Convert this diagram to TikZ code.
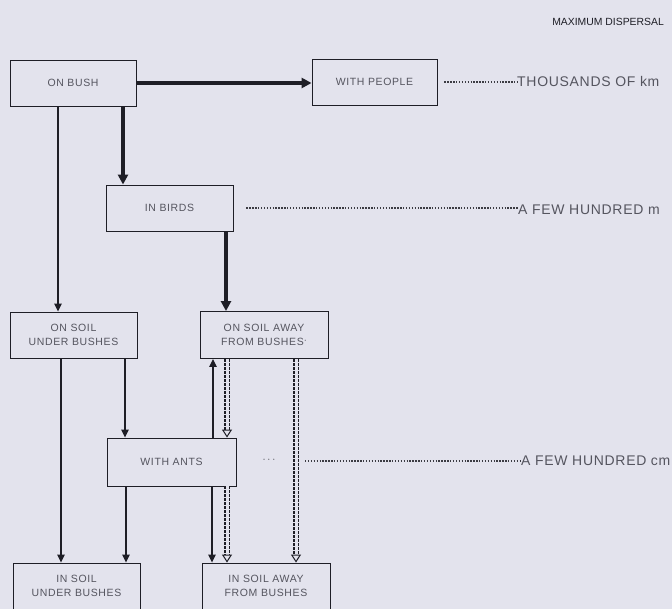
\documentclass[tikz,border=0pt]{standalone}
\usepackage{fontspec}
\setmainfont{Liberation Sans}
\newfontfamily\boxfont[LetterSpace=6]{Liberation Sans}
\newfontfamily\labelfont[LetterSpace=5]{Liberation Sans}
\usepackage{xcolor}
\usepackage{tikz}
\usetikzlibrary{arrows.meta, positioning, calc}
\definecolor{bgc}{RGB}{227,227,237}
\definecolor{linec}{RGB}{30,30,38}
\definecolor{textc}{RGB}{85,85,95}
\tikzset{
  box/.style={rectangle, draw=linec, line width=0.9pt, minimum width=127pt, minimum height=46pt, align=center, text=textc, font=\boxfont\fontsize{10.5}{14}\selectfont, inner sep=0pt},
  farlabel/.style={anchor=west, text=textc, font=\labelfont\fontsize{14}{16}\selectfont, inner sep=0pt},
  arrow/.style={-{Triangle[length=8pt, width=7.5pt]}, draw=linec, line width=1.1pt},
  tarrow/.style={-{Triangle[length=10pt, width=10pt]}, draw=linec, line width=3.6pt},
  uparrow/.style={-{Triangle[length=8pt, width=7.5pt]}, draw=linec, line width=1.1pt},
  ddarrow/.style={-{Triangle[open, length=8pt, width=10pt, line width=1pt]}, draw=linec, double=bgc, double distance=3pt, line width=1.1pt, dash pattern=on 2.8pt off 1.2pt},
  leader/.style={draw=textc!70!black, line width=1.5pt, dash pattern=on 1.4pt off 1.5pt},
}

\begin{document}
\begin{tikzpicture}[x=1pt, y=-1pt]
  % Background
  \fill[bgc] (0,0) rectangle (672,609);
  \useasboundingbox (0,0) rectangle (672,609);

  % Boxes
  \node[box, minimum width=126pt] (bush) at (73, 83) {ON BUSH};
  \node[box, minimum width=125pt] (people) at (374.5, 82) {WITH PEOPLE};
  \node[box] (birds) at (169.5, 208) {IN BIRDS};
  \node[box] (soilunder) at (73.5, 335) {ON SOIL\\UNDER BUSHES};
  \node[box, minimum width=128pt, minimum height=47pt] (soilaway) at (264, 335) {ON SOIL AWAY\\FROM BUSHES\raisebox{0.3ex}{$\cdot$}};
  \node[box, minimum width=129pt, minimum height=48pt] (ants) at (171.5, 462) {WITH ANTS};
  \node[box] (insoilunder) at (76.5, 586) {IN SOIL\\UNDER BUSHES};
  \node[box, minimum width=128pt] (insoilaway) at (266, 586) {IN SOIL AWAY\\FROM BUSHES};

  % Distances
  \node[anchor=east, text=linec, font=\fontsize{10.4}{12}\selectfont, inner sep=0pt] (title) at (664, 22) {MAXIMUM DISPERSAL};
  \node[farlabel] (km) at (517, 82) {THOUSANDS OF km};
  \node[farlabel] (hm) at (518, 210) {A FEW HUNDRED m};
  \node[farlabel] (hcm) at (521, 461) {A FEW HUNDRED cm};
  \node[text=textc!80!black, font=\fontsize{11}{12}\selectfont, inner sep=0pt] (dots) at (269, 460) {$\cdots$};
  \coordinate (leadstart) at (305, 461);

  \draw[leader] ([xshift=7pt]people.east) -- (km.west);
  \draw[leader] ([xshift=13pt]birds.east) -- (birds.east -| hm.west);
  \draw[leader] (leadstart) -- (leadstart -| hcm.west);

  % Heavy routes
  \draw[tarrow] (bush.east) -- (bush.east -| people.west);
  \draw[tarrow] ([xshift=50pt]bush.south) -- ([xshift=50pt]bush.south |- birds.north);
  \draw[tarrow] ([xshift=56.5pt]birds.south) -- ([xshift=56.5pt]birds.south |- soilaway.north);

  % Light routes
  \draw[arrow] ([xshift=-15pt]bush.south) -- ([xshift=-15pt]bush.south |- soilunder.north);
  \draw[arrow] ([xshift=-12.5pt]soilunder.south) -- ([xshift=-12.5pt]soilunder.south |- insoilunder.north);
  \draw[arrow] ([xshift=51.5pt]soilunder.south) -- ([xshift=51.5pt]soilunder.south |- ants.north);
  \draw[arrow] ([xshift=-45.5pt]ants.south) -- ([xshift=-45.5pt]ants.south |- insoilunder.north);
  \draw[uparrow] ([xshift=41.5pt]ants.north) -- ([xshift=41.5pt]ants.north |- soilaway.south);
  \draw[arrow] ([xshift=40.5pt]ants.south) -- ([xshift=40.5pt]ants.south |- insoilaway.north);

  % Double dashed routes
  \draw[ddarrow] ([xshift=-37pt]soilaway.south) -- ([xshift=-37pt]soilaway.south |- ants.north);
  \draw[ddarrow] ([xshift=55.5pt]ants.south) -- ([xshift=55.5pt]ants.south |- insoilaway.north);
  \draw[ddarrow] ([xshift=32pt]soilaway.south) -- ([xshift=32pt]soilaway.south |- insoilaway.north);
\end{tikzpicture}
\end{document}
